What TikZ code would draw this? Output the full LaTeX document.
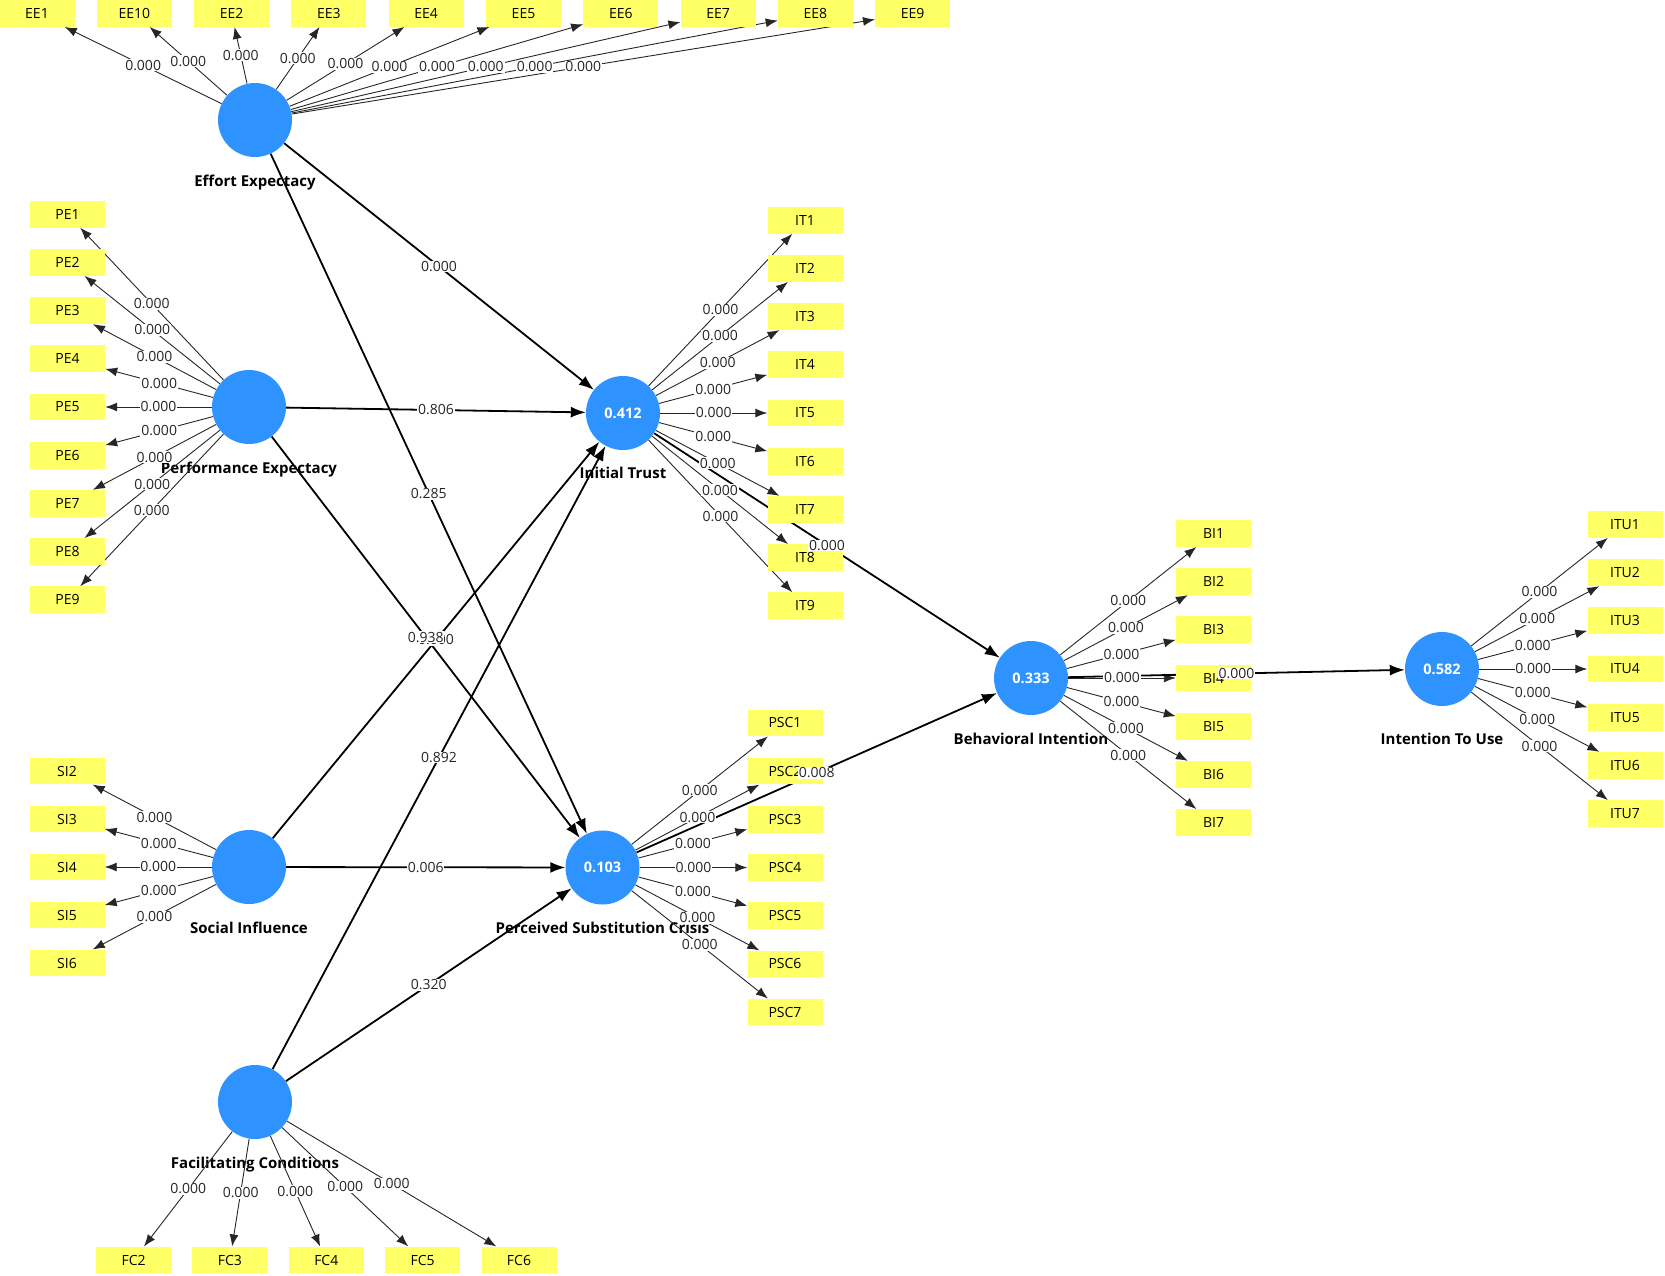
\documentclass[tikz,border=0pt]{standalone}
\usepackage{fontspec}
\setmainfont{Open Sans}
\usepackage{tikz}
\usetikzlibrary{arrows.meta,backgrounds}
\usepackage{xcolor}
\definecolor{lvblue}{RGB}{46,147,255}
\definecolor{mvyellow}{RGB}{255,255,102}

\begin{document}
\begin{tikzpicture}[
  x=1pt, y=-1pt,
  every node/.style={font=\fontsize{14}{16}\selectfont},
  lv/.style={circle,fill=lvblue,minimum size=74pt,inner sep=0pt,text=white,font=\bfseries\fontsize{14.5}{16}\selectfont},
  mv/.style={rectangle,fill=mvyellow,minimum width=75pt,minimum height=26.7pt,inner sep=0pt},
  cname/.style={anchor=base,font=\bfseries\fontsize{15}{17}\selectfont},
  lbl/.style={fill=white,inner sep=0.8pt,text=black!85},
  ld/.style={line width=0.9pt,draw=black!85,-{Latex[length=12pt,width=9pt]}},
  pth/.style={line width=1.8pt,-{Latex[length=15pt,width=11pt]}}
]
  \useasboundingbox (0,0) rectangle (1665,1275);

  \node[lv] (EE) at (255,120) {};
  \node[lv] (PE) at (249,407) {};
  \node[lv] (SI) at (249,867) {};
  \node[lv] (FC) at (255,1102) {};
  \node[lv] (IT) at (623,413) {0.412};
  \node[lv] (PSC) at (602.5,867.5) {0.103};
  \node[lv] (BI) at (1031,678) {0.333};
  \node[lv] (ITU) at (1442,669) {0.582};

  \foreach \n [count=\k from 0] in {1,10,2,3,4,5,6,7,8,9}
    \node[mv] (EE\n) at ({37+97.3*\k},13.4) {EE\n};
  \foreach \i in {1,...,9}
    \node[mv] (PE\i) at (67.5,{407+48.2*(\i-5)}) {PE\i};
  \foreach \i in {2,...,6}
    \node[mv] (SI\i) at (67,{867+48*(\i-4)}) {SI\i};
  \foreach \i in {2,...,6}
    \node[mv] (FC\i) at ({133.6+96.35*(\i-2)},1260) {FC\i};
  \foreach \i in {1,...,9}
    \node[mv] (IT\i) at (805,{413+48.2*(\i-5)}) {IT\i};
  \foreach \i in {1,...,7}
    \node[mv] (PSC\i) at (785,{867.5+48.2*(\i-4)}) {PSC\i};
  \foreach \i in {1,...,7}
    \node[mv] (BI\i) at (1213.5,{678+48.2*(\i-4)}) {BI\i};
  \foreach \i in {1,...,7}
    \node[mv] (ITU\i) at (1625,{669+48.2*(\i-4)}) {ITU\i};

  \begin{scope}[on background layer]
    \node[cname] (EEname) at (255,186) {Effort Expectacy};
    \node[cname] (PEname) at (249,473) {Performance Expectacy};
    \node[cname] (SIname) at (249,933) {Social Influence};
    \node[cname] (FCname) at (255,1168) {Facilitating Conditions};
    \node[cname] (ITname) at (623,478.5) {Initial Trust};
    \node[cname] (PSCname) at (602.5,933.5) {Perceived Substitution Crisis};
    \node[cname] (BIname) at (1031,744) {Behavioral Intention};
    \node[cname] (ITUname) at (1442,744) {Intention To Use};

    \foreach \n in {1,...,10} \draw[ld] (EE) -- (EE\n);
    \foreach \i in {1,...,9} \draw[ld] (PE) -- (PE\i);
    \foreach \i in {2,...,6} \draw[ld] (SI) -- (SI\i);
    \foreach \i in {2,...,6} \draw[ld] (FC) -- (FC\i);
    \foreach \i in {1,...,9} \draw[ld] (IT) -- (IT\i);
    \foreach \i in {1,...,7} \draw[ld] (PSC) -- (PSC\i);
    \foreach \i in {1,...,7} \draw[ld] (BI) -- (BI\i);
    \foreach \i in {1,...,7} \draw[ld] (ITU) -- (ITU\i);
    \foreach \a/\b in {EE/IT,EE/PSC,PE/IT,PE/PSC,SI/IT,SI/PSC,FC/IT,FC/PSC,IT/BI,PSC/BI,BI/ITU}
      \draw[pth] (\a) -- (\b);
  \end{scope}

  \foreach \n in {1,...,10} \path (EE) -- (EE\n) node[lbl,midway] {0.000};
  \foreach \i in {1,...,9} \path (PE) -- (PE\i) node[lbl,midway] {0.000};
  \foreach \i in {2,...,6} \path (SI) -- (SI\i) node[lbl,midway] {0.000};
  \foreach \i in {2,...,6} \path (FC) -- (FC\i) node[lbl,midway] {0.000};
  \foreach \i in {1,...,9} \path (IT) -- (IT\i) node[lbl,midway] {0.000};
  \foreach \i in {1,...,7} \path (PSC) -- (PSC\i) node[lbl,midway] {0.000};
  \foreach \i in {1,...,7} \path (BI) -- (BI\i) node[lbl,midway] {0.000};
  \foreach \i in {1,...,7} \path (ITU) -- (ITU\i) node[lbl,midway] {0.000};
  \foreach \a/\b/\v in {EE/IT/0.000,EE/PSC/0.285,PE/IT/0.806,SI/IT/0.000,PE/PSC/0.938,
      SI/PSC/0.006,FC/IT/0.892,FC/PSC/0.320,IT/BI/0.000,PSC/BI/0.008,BI/ITU/0.000}
    \path (\a) -- (\b) node[lbl,midway] {\v};
\end{tikzpicture}
\end{document}
